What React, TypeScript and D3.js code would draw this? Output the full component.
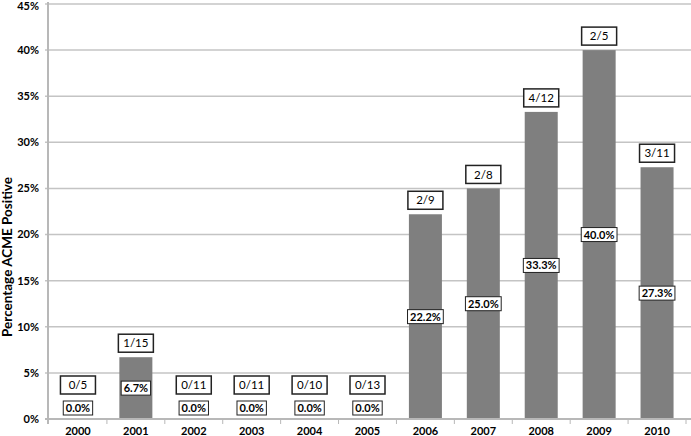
import React, { useRef, useEffect } from "react";
import * as d3 from "d3";

const years = ["2000", "2001", "2002", "2003", "2004", "2005", "2006", "2007", "2008", "2009", "2010"];
const positives = [0, 1, 0, 0, 0, 0, 2, 2, 4, 2, 3];
const totals = [5, 15, 11, 11, 10, 13, 9, 8, 12, 5, 11];
const percents = [0, 6.7, 0, 0, 0, 0, 22.2, 25.0, 33.3, 40.0, 27.3];
const yTicks = [0, 5, 10, 15, 20, 25, 30, 35, 40, 45];

const W = 691;
const H = 436;
const FONT = "Lato, 'Open Sans', sans-serif";

const App = () => {
  const svgRef = useRef<SVGSVGElement>(null);

  useEffect(() => {
    const svg = d3.select(svgRef.current);
    svg.selectAll("*").remove();

    const x = d3
      .scaleBand<string>()
      .domain(years)
      .range([49, 686])
      .paddingInner(0.43)
      .paddingOuter(0.215);
    const y = d3.scaleLinear().domain([0, 45]).range([419, 4]);

    // gridlines
    svg
      .append("g")
      .selectAll("line")
      .data(yTicks.filter((t) => t > 0))
      .join("line")
      .attr("x1", 45)
      .attr("x2", W)
      .attr("y1", (d) => y(d))
      .attr("y2", (d) => y(d))
      .attr("stroke", "#c4c4c4")
      .attr("stroke-width", 1.5);

    // y tick labels (top one kept inside the frame)
    svg
      .append("g")
      .selectAll("text")
      .data(yTicks)
      .join("text")
      .attr("x", 39)
      .attr("y", (d) => Math.max(y(d), 6))
      .attr("dy", "0.35em")
      .attr("text-anchor", "end")
      .style("font-family", FONT)
      .style("font-weight", "bold")
      .style("font-size", "11px")
      .text((d) => d + "%");

    // bars
    svg
      .append("g")
      .selectAll("rect")
      .data(percents)
      .join("rect")
      .attr("x", (d, i) => x(years[i])!)
      .attr("width", x.bandwidth())
      .attr("y", (d) => y(d))
      .attr("height", (d) => y(0) - y(d))
      .attr("fill", "#7f7f7f");

    // axes lines
    svg
      .append("line")
      .attr("x1", 48)
      .attr("x2", 48)
      .attr("y1", 2)
      .attr("y2", y(0) + 5)
      .attr("stroke", "#b8b8b8")
      .attr("stroke-width", 2);
    svg
      .append("line")
      .attr("x1", 45)
      .attr("x2", W)
      .attr("y1", y(0))
      .attr("y2", y(0))
      .attr("stroke", "#b8b8b8")
      .attr("stroke-width", 2);

    // x ticks at category boundaries
    const step = x.step();
    svg
      .append("g")
      .selectAll("line")
      .data(years)
      .join("line")
      .attr("x1", (d) => x(d)! + x.bandwidth() / 2 + step / 2)
      .attr("x2", (d) => x(d)! + x.bandwidth() / 2 + step / 2)
      .attr("y1", y(0))
      .attr("y2", y(0) + 5)
      .attr("stroke", "#b8b8b8")
      .attr("stroke-width", 1);

    // x tick labels
    svg
      .append("g")
      .selectAll("text")
      .data(years)
      .join("text")
      .attr("x", (d) => x(d)! + x.bandwidth() / 2)
      .attr("y", 435)
      .attr("text-anchor", "middle")
      .style("font-family", FONT)
      .style("font-weight", "bold")
      .style("font-size", "11px")
      .text((d) => d);

    // y axis title
    svg
      .append("text")
      .attr("transform", "translate(12,257) rotate(-90)")
      .attr("text-anchor", "middle")
      .style("font-family", FONT)
      .style("font-weight", "bold")
      .style("font-size", "13.5px")
      .text("Percentage ACME Positive");

    // labels
    percents.forEach((v, i) => {
      const cx = x(years[i])! + x.bandwidth() / 2;

      // value label in bar
      const vy = v === 0 ? y(0) - 11 : (y(v) + y(0)) / 2;
      const g = svg.append("g");
      const rect = g.append("rect");
      const t = g
        .append("text")
        .attr("x", cx)
        .attr("y", vy)
        .attr("dy", "0.36em")
        .attr("text-anchor", "middle")
        .style("font-family", FONT)
        .style("font-weight", "bold")
        .style("font-size", "11px")
        .text(v.toFixed(1) + "%");
      const tw = (t.node() as SVGTextElement).getComputedTextLength();
      rect
        .attr("x", cx - tw / 2 - 2.5)
        .attr("y", vy - 7)
        .attr("width", tw + 5)
        .attr("height", 14)
        .attr("fill", "#fff")
        .attr("stroke", "#222")
        .attr("stroke-width", 1);

      // count label above bar
      const bottom = y(v) - 5 - (v === 0 ? 20 : 0);
      const g2 = svg.append("g");
      g2.append("rect")
        .attr("x", cx - 17.5)
        .attr("y", bottom - 18)
        .attr("width", 35)
        .attr("height", 18)
        .attr("fill", "#fff")
        .attr("stroke", "#222")
        .attr("stroke-width", 1.5);
      g2.append("text")
        .attr("x", cx)
        .attr("y", bottom - 9)
        .attr("dy", "0.36em")
        .attr("text-anchor", "middle")
        .style("font-family", FONT)
        .style("font-size", "11.5px")
        .text(`${positives[i]}/${totals[i]}`);
    });
  }, []);

  return (
    <svg
      ref={svgRef}
      width={W}
      height={H}
      style={{ position: "absolute", left: 0, top: 0, background: "#fff" }}
    />
  );
};

export default App;
